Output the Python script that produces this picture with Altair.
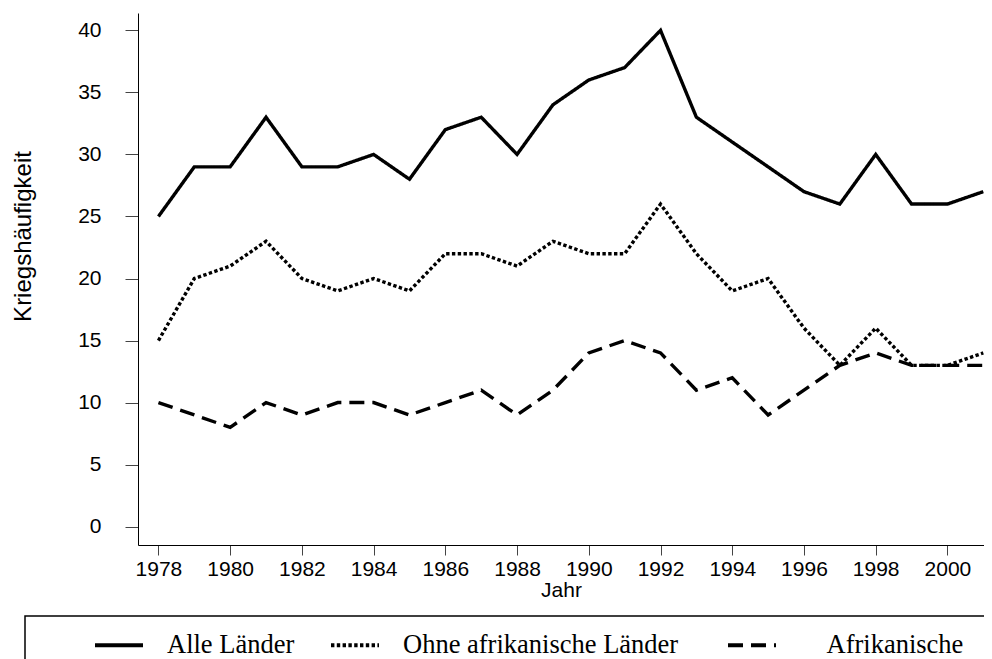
import altair as alt
import pandas as pd

years = [1978, 1979, 1980, 1981, 1982, 1983, 1984, 1985, 1986, 1987, 1988, 1989,
         1990, 1991, 1992, 1993, 1994, 1995, 1996, 1997, 1998, 1999, 2000, 2001]
alle_laender = [25, 29, 29, 33, 29, 29, 30, 28, 32, 33, 30, 34,
                36, 37, 40, 33, 31, 29, 27, 26, 30, 26, 26, 27]
ohne_afrika = [15, 20, 21, 23, 20, 19, 20, 19, 22, 22, 21, 23,
               22, 22, 26, 22, 19, 20, 16, 13, 16, 13, 13, 14]
afrikanische = [10, 9, 8, 10, 9, 10, 10, 9, 10, 11, 9, 11,
                14, 15, 14, 11, 12, 9, 11, 13, 14, 13, 13, 13]

series_names = ["Alle Länder", "Ohne afrikanische Länder", "Afrikanische"]
x_ticks = [1978, 1980, 1982, 1984, 1986, 1988, 1990, 1992, 1994, 1996, 1998, 2000]
y_ticks = [0, 5, 10, 15, 20, 25, 30, 35, 40]

rows = []
for name, vals in zip(series_names, [alle_laender, ohne_afrika, afrikanische]):
    for yr, v in zip(years, vals):
        rows.append({"Jahr": yr, "Wert": v, "Serie": name})
df = pd.DataFrame(rows)

sans = "Liberation Sans"
serif = "Liberation Serif"

zw = "\u200b"
nb = "\u00a0"
label_expr = (
    f"datum.label == 'Afrikanische' ? '{zw}{nb * 4}' + datum.label + '{nb * 6}{zw}' : "
    f"datum.label == 'Ohne afrikanische Länder' ? datum.label + '{nb * 2}{zw}' : datum.label"
)

chart = alt.Chart(df).mark_line(
    color="black", strokeWidth=3.4, strokeCap="butt"
).encode(
    x=alt.X(
        "Jahr:Q",
        scale=alt.Scale(domain=[1977.43, 2001.02], nice=False, zero=False),
        axis=alt.Axis(
            values=x_ticks, format="d", title="Jahr", grid=False,
            tickSize=10, labelPadding=3, titlePadding=0,
            labelFont=sans, labelFontSize=21, labelColor="black",
            titleFont=sans, titleFontSize=21, titleFontWeight="normal", titleColor="black",
            domainColor="black", tickColor="#444", labelFlush=False,
        ),
    ),
    y=alt.Y(
        "Wert:Q",
        scale=alt.Scale(domain=[-1.48, 41.4], nice=False, zero=False),
        axis=alt.Axis(
            values=y_ticks, title="Kriegshäufigkeit", grid=False,
            tickSize=13, labelPadding=24, titlePadding=42, titleY=223,
            labelFont=sans, labelFontSize=21, labelColor="black",
            titleFont=sans, titleFontSize=24, titleFontWeight="normal", titleColor="black",
            domainColor="black", tickColor="#444", labelFlush=False,
        ),
    ),
    strokeDash=alt.StrokeDash(
        "Serie:N",
        scale=alt.Scale(domain=series_names, range=[[1, 0], [3.4, 2.4], [15, 8]]),
        legend=alt.Legend(
            orient="none", legendX=-113, legendY=603, direction="horizontal",
            title=" ", titleOrient="left", titleFontSize=1, titlePadding=65,
            strokeColor="black", padding=3,
            labelFont=serif, labelFontSize=26.5, labelColor="black",
            labelOffset=22, columnPadding=28, symbolType="stroke",
            symbolSize=2304, symbolStrokeWidth=4, symbolStrokeColor="black",
            labelLimit=800,
            labelExpr=label_expr,
        ),
    ),
).properties(
    width=846,
    height=532,
    autosize=alt.AutoSizeParams(type="none"),
    padding={"left": 130, "top": 5, "right": 0, "bottom": 114},
).configure_view(
    strokeWidth=0
).configure_legend(
    strokeWidth=1.5
)

chart.save("out.html", embed_options={"renderer": "svg", "actions": False})
